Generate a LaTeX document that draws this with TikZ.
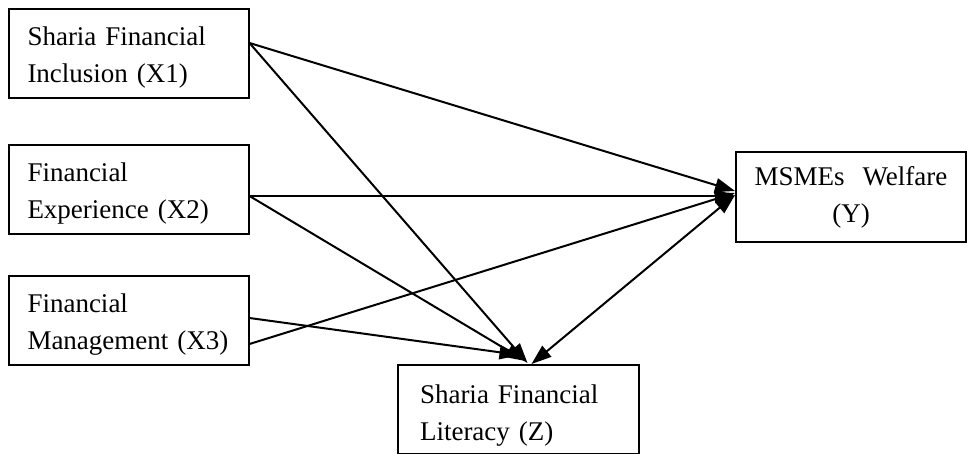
\documentclass[tikz,border=0pt]{standalone}
\usepackage{fontspec}
\setmainfont{Liberation Serif}
\usetikzlibrary{arrows.meta,calc}

\tikzset{every picture/.style={line width=1pt}}
\tikzset{
  varbox/.style={draw, rectangle, inner sep=0pt, minimum height=44.5pt,
    font=\fontsize{13.5pt}{18.5pt}\selectfont},
  leftbox/.style={varbox, minimum width=120pt, text width=101pt, align=left,
    execute at begin node={\rule{0pt}{13pt}}},
  conn/.style={-{Triangle[length=10pt,width=7pt]}},
}

\begin{document}
\begin{tikzpicture}[x=0.5pt,y=0.5pt,yscale=-1,xscale=1]
\useasboundingbox (0,0) rectangle (967,454);

%Shape: Rectangle [id:x1]
\node[leftbox] (x1) at (128.5,53.5) {Sharia Financial\\Inclusion (X1)};
%Shape: Rectangle [id:x2]
\node[leftbox] (x2) at (128.5,189.5) {Financial\\Experience (X2)};
%Shape: Rectangle [id:x3]
\node[leftbox] (x3) at (128.5,320.5) {Financial\\Management (X3)};
%Shape: Rectangle [id:y]
\node[varbox, minimum width=115pt, text width=110pt, align=center] (y) at (851,197) {MSMEs~~Welfare\\(Y)};
%Shape: Rectangle [id:z]
\node[varbox, minimum width=120.5pt, text width=98.5pt, align=left,
  execute at begin node={\rule{0pt}{15pt}}] (z) at (518.5,409.5) {Sharia Financial\\Literacy (Z)};

%Straight Lines from X1
\draw[conn] ($(x1.east)+(0,-10.5)$) -- ($(y.west)+(0,-6)$);
\draw[conn] ($(x1.east)+(0,-10.5)$) -- ($(z.north)+(9,-1)$);
%Straight Lines from X2
\draw[conn] ($(x2.east)+(0,6.5)$) -- ($(y.west)+(0,-1)$);
\draw[conn] ($(x2.east)+(0,6.5)$) -- ($(z.north)+(7,-3)$);
%Straight Lines from X3
\draw[conn] ($(x3.east)+(0,-2.5)$) -- ($(z.north)+(1,-9)$);
\draw[conn] ($(x3.east)+(0,23.5)$) -- ($(y.west)+(0,-4)$);
%Straight Lines Z to Y
\draw[{Triangle[length=10pt,width=7pt]}-{Triangle[length=10pt,width=7pt]}] ($(z.north)+(13,0)$) -- ($(y.west)+(0,-2)$);

\end{tikzpicture}
\end{document}
